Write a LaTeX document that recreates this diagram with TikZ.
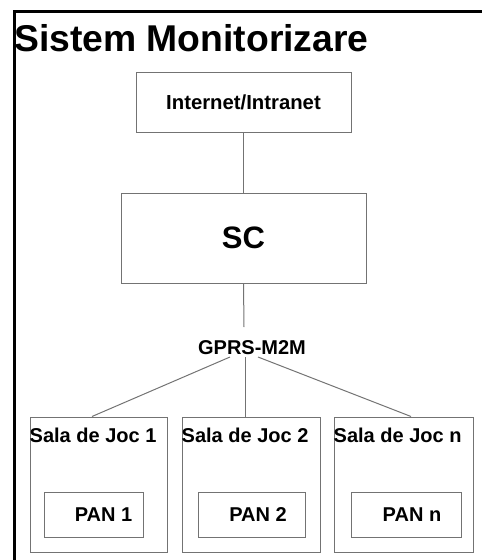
\documentclass[tikz,border=0pt]{standalone}
\usepackage{fontspec}
\setmainfont{Liberation Sans}
\usetikzlibrary{calc}
\begin{document}
\begin{tikzpicture}[x=1pt,y=-1pt,
  box/.style={draw=black!55,line width=1pt,inner sep=0pt,font=\bfseries\fontsize{20}{23}\selectfont},
  conn/.style={draw=black!55,line width=1pt},
  lbl/.style={inner sep=0pt,font=\bfseries\fontsize{20}{23}\selectfont}]
\useasboundingbox (0,0) rectangle (482,560);
% outer frame
\draw[line width=3pt] (482,11.5) -- (14.5,11.5) -- (14.5,560);
\node[anchor=base west,inner sep=0pt,font=\bfseries\fontsize{37.3}{40}\selectfont] (title) at (14,51) {Sistem Monitorizare};
% top boxes
\node[box,minimum width=215pt,minimum height=60pt,font=\bfseries\fontsize{20.3}{23}\selectfont] (inet) at (243.5,102) {Internet/Intranet};
\node[box,minimum width=245pt,minimum height=90pt,font=\bfseries\fontsize{31}{34}\selectfont] (sc) at (243.5,238) {SC};
\node[lbl] (gprs) at (252,348) {GPRS-M2M};
\coordinate (gtop) at (244,327);
\coordinate (gl) at (230,357);
\coordinate (gm) at (245,357);
\coordinate (gr) at (258,357);
% rooms
\node[box,minimum width=137pt,minimum height=135pt] (s1) at (98.5,484.5) {};
\node[box,minimum width=138pt,minimum height=135pt] (s2) at (251,484.5) {};
\node[box,minimum width=139pt,minimum height=135pt] (s3) at (403.5,484.5) {};
\node[lbl,anchor=west] (t1) at ([yshift=-19pt]s1.north west) {Sala de Joc 1};
\node[lbl,anchor=west] (t2) at ([yshift=-19pt]s2.north west) {Sala de Joc 2};
\node[lbl,anchor=west] (t3) at ([yshift=-19pt]s3.north west) {Sala de Joc n};
\node[box,minimum width=99pt,minimum height=45pt] (p1) at (93.5,514.5) {\hspace*{20pt}PAN 1};
\node[box,minimum width=107pt,minimum height=45pt] (p2) at (251.5,514.5) {\hspace*{13pt}PAN 2};
\node[box,minimum width=110pt,minimum height=45pt] (p3) at (406,514.5) {\hspace*{12pt}PAN n};
% connectors
\draw[conn] (inet.south) -- (inet.south |- sc.north);
\draw[conn] (inet.south |- sc.south) -- (gtop);
\draw[conn] (gl) -- ([xshift=-6.5pt]s1.north);
\draw[conn] (gm) -- ([xshift=-6pt]s2.north);
\draw[conn] (gr) -- ([xshift=7.5pt]s3.north);
\end{tikzpicture}
\end{document}
